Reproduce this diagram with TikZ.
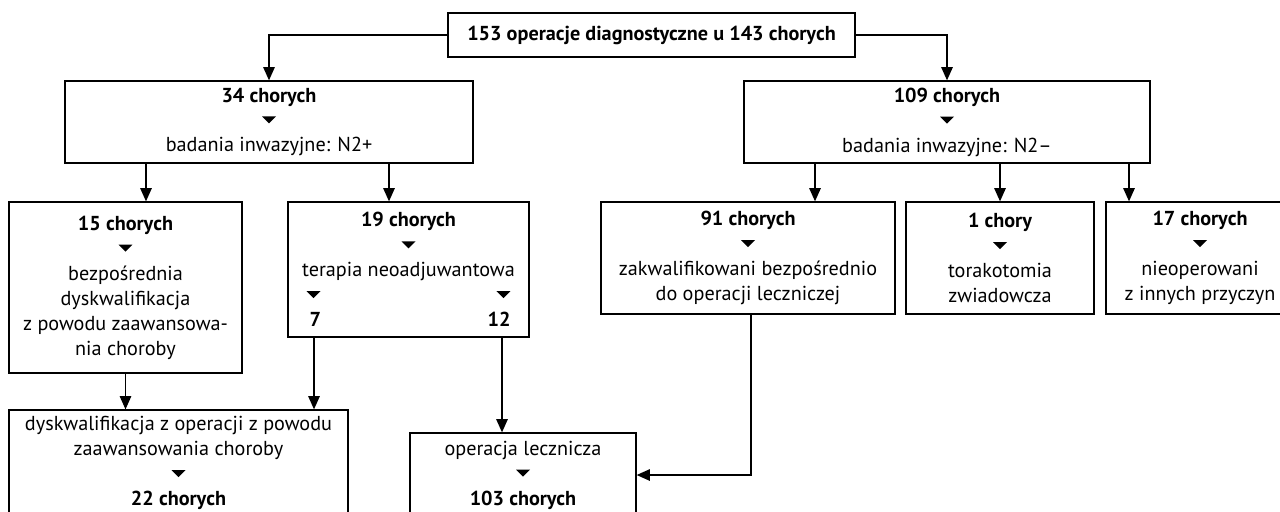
\documentclass[tikz,border=0pt]{standalone}
\usepackage{fontspec}
\setmainfont{PT Sans}
\usetikzlibrary{arrows.meta}

% maly trojkat miedzy wierszami
\newcommand{\downtri}{\tikz[baseline=0pt,x=1cm,y=1cm]\fill (0,0.21) -- (0.28,0.21) -- (0.14,0.07) -- cycle;}

\begin{document}
\begin{tikzpicture}[x=0.02cm, y=-0.02cm,
    box/.style={draw, line width=0.75pt, align=center, inner sep=0pt,
        font=\fontsize{11.5}{14.2}\selectfont},
    arr/.style={line width=0.75pt, -{Triangle[length=7.5pt,width=6.5pt]}}]
    \useasboundingbox (0,0) rectangle (1280,511);
    \clip (0,0) rectangle (1280,511);

    % pierwszy poziom
    \node[box, minimum width=8.14cm, minimum height=0.88cm] (top) at (651.5,35)
        {\bfseries 153 operacje diagnostyczne u 143 chorych};

    % badania inwazyjne
    \node[box, minimum width=8.16cm, minimum height=1.64cm] (n34) at (269,122)
        {{\bfseries 34 chorych}\\\downtri\\badania inwazyjne: N2+};
    \node[box, minimum width=8.12cm, minimum height=1.64cm] (n109) at (947,122)
        {{\bfseries 109 chorych}\\\downtri\\badania inwazyjne: N2--};

    % grupy chorych
    \node[box, minimum width=4.66cm, minimum height=3.42cm] (n15) at (125.5,287.5)
        {{\bfseries 15 chorych}\\\downtri\\bezpośrednia\\dyskwalifikacja\\z powodu zaawansowa-\\nia choroby};
    \node[box, minimum width=4.82cm, minimum height=2.70cm] (n19) at (408.5,269.5)
        {{\bfseries 19 chorych}\\\downtri\\terapia neoadjuwantowa\\
         \makebox[4.08cm]{\downtri\hfill\downtri}\\
         \makebox[4.08cm]{\bfseries\hspace{0.06cm}7\hfill 12}};
    \node[box, minimum width=5.88cm, minimum height=2.24cm] (n91) at (748,258)
        {{\bfseries 91 chorych}\\\downtri\\zakwalifikowani bezpośrednio\\do operacji leczniczej};
    \node[box, minimum width=3.76cm, minimum height=2.24cm] (n1) at (1000,258)
        {{\bfseries 1 chory}\\\downtri\\torakotomia\\zwiadowcza};
    \node[box, minimum width=3.76cm, minimum height=2.24cm] (n17) at (1200,258)
        {{\bfseries 17 chorych}\\\downtri\\nieoperowani\\z innych przyczyn};

    % wyniki
    \node[box, minimum width=6.78cm, minimum height=2.12cm] (dysk) at (178.5,463)
        {dyskwalifikacja z operacji z powodu\\zaawansowania choroby\\\downtri\\{\bfseries 22 chorych}};
    \node[box, minimum width=4.52cm, minimum height=1.68cm] (oper) at (523,475)
        {operacja lecznicza\\\downtri\\{\bfseries 103 chorych}};

    % strzalki
    \draw[arr] (top.west) -| (n34.north);
    \draw[arr] (top.east) -| (n109.north);
    \draw[arr] (146,0 |- n34.south) -- (146,0 |- n15.north);
    \draw[arr] (389,0 |- n34.south) -- (389,0 |- n19.north);
    \draw[arr] (815,0 |- n109.south) -- (815,0 |- n91.north);
    \draw[arr] (n1.north |- n109.south) -- (n1.north);
    \draw[arr] (1129,0 |- n109.south) -- (1129,0 |- n17.north);
    \draw[arr] (n15.south) -- (n15.south |- dysk.north);
    \draw[arr] (314,0 |- n19.south) -- (314,0 |- dysk.north);
    \draw[arr] (502,0 |- n19.south) -- (502,0 |- oper.north);
    \draw[arr] (751,0 |- n91.south) |- (oper.east);
\end{tikzpicture}
\end{document}
